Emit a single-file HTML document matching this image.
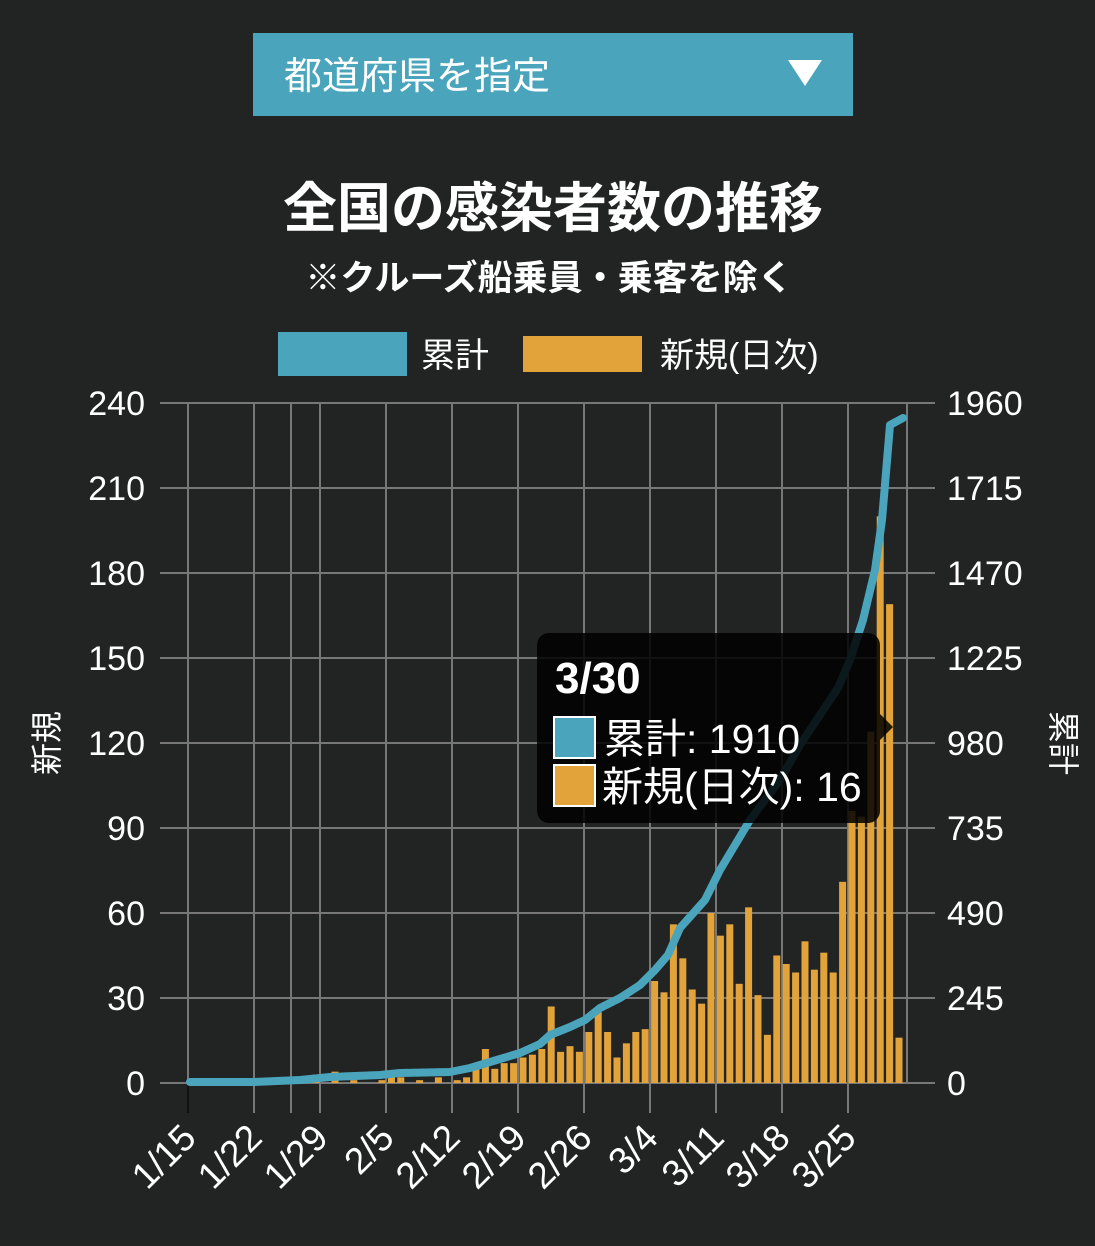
<!DOCTYPE html>
<html><head><meta charset="utf-8"><style>
html,body{margin:0;padding:0;background:#222424;}
svg{display:block;font-family:"Liberation Sans","Noto Sans CJK JP",sans-serif;}
</style></head><body>
<svg width="1095" height="1246" viewBox="0 0 1095 1246" xmlns="http://www.w3.org/2000/svg">
<rect width="1095" height="1246" fill="#222424"/>
<rect x="253" y="33" width="600" height="83" fill="#4aa5bc"/>
<text x="284" y="89" font-size="38" fill="#fff">都道府県を指定</text>
<polygon points="788,60 822,60 805,86" fill="#fff"/>
<text x="553" y="227" font-size="54" font-weight="bold" fill="#fff" text-anchor="middle">全国の感染者数の推移</text>
<text x="549" y="290" font-size="35" font-weight="bold" fill="#fff" text-anchor="middle">※クルーズ船乗員・乗客を除く</text>
<rect x="278" y="332" width="129" height="44" fill="#4aa5bc"/>
<text x="421" y="367" font-size="34" fill="#fff">累計</text>
<rect x="523" y="336" width="119" height="36" fill="#e3a33b"/>
<text x="660" y="367" font-size="34" fill="#fff">新規(日次)</text>
<g id="grid" stroke="#777" stroke-width="2"></g>
<g id="bars" fill="#e3a33b"></g>
<polyline id="line" fill="none" stroke="#4aa5bc" stroke-width="8" stroke-linejoin="round" stroke-linecap="round"/>
<g id="labels" font-size="34" fill="#fff"></g>
<g id="xlabels" font-size="37" fill="#fff"></g>
<text transform="translate(58,743) rotate(-90)" font-size="32" fill="#fff" text-anchor="middle">新規</text>
<text transform="translate(1052,743) rotate(90)" font-size="32" fill="#fff" text-anchor="middle">累計</text>
<rect x="537" y="633" width="343" height="190" rx="12" fill="#000" fill-opacity="0.85"/>
<polygon points="880,714 893,727 880,740" fill="#000" fill-opacity="0.85"/>
<text x="555" y="693" font-size="44" font-weight="bold" fill="#fff">3/30</text>
<rect x="554" y="717" width="41" height="41" fill="#4aa5bc" stroke="#fff" stroke-width="2"/>
<text x="604" y="753" font-size="41" fill="#fff">累計: 1910</text>
<rect x="554" y="765" width="41" height="41" fill="#e3a33b" stroke="#fff" stroke-width="2"/>
<text x="602" y="801" font-size="41" fill="#fff">新規(日次): 16</text>
<script>
var ns="http://www.w3.org/2000/svg";
function el(t,a,p,txt){var e=document.createElementNS(ns,t);for(var k in a)e.setAttribute(k,a[k]);if(txt)e.textContent=txt;document.getElementById(p).appendChild(e);return e;}
var y0=1083,s=680/240;
for(var i=0;i<=8;i++){var y=y0-i*85;el('line',{x1:160,x2:935,y1:y,y2:y},'grid');
el('text',{x:145,y:y+12,'text-anchor':'end'},'labels',String(i*30));
el('text',{x:947,y:y+12},'labels',String(i*245));}
var vx=[188,254,291,320,386,452,518,584,650,716,782,848,907];
vx.forEach(function(x){el('line',{x1:x,x2:x,y1:403,y2:(x==907)?1083:1113,stroke:(x==188?'#111':'#777')},'grid');});
el('line',{x1:188,x2:188,y1:403,y2:1083},'grid');
var xl=['1/15','1/22','1/29','2/5','2/12','2/19','2/26','3/4','3/11','3/18','3/25'];
var xp=[188,254,320,386,452,518,584,650,716,782,848];
xl.forEach(function(t,i){el('text',{transform:'translate('+(xp[i]+10)+',1140) rotate(-45)','text-anchor':'end'},'xlabels',t);});
var v={13:3,15:4,17:1,20:1,21:2,22:2,24:1,26:2,28:1,29:2,30:7,31:12,32:5,33:7,34:7,35:9,36:10,37:12,38:27,39:11,40:13,41:11,42:18,43:25,44:18,45:9,46:14,47:18,48:19};
var late=[36,32,56,44,33,28,60,52,56,35,62,31,17,45,42,39,50,40,46,39,71,96,94,124,200,169,16];
late.forEach(function(d,i){v[49+i]=d;});
for(var n in v){var x=194+n*9.4-3.5,h=v[n]*s;el('rect',{x:x,y:y0-h,width:7,height:h},'bars');}
document.getElementById('line').setAttribute('points',"190,1082 254,1082 300,1080 330,1077 355,1076 380,1075 400,1073 450,1072 470,1068 490,1062 520,1053 540,1044 550,1035 570,1027 585,1020 600,1008 620,998 640,985 655,970 668,955 680,928 705,900 720,870 735,845 750,820 765,800 780,780 800,745 820,715 838,688 850,660 863,620 875,570 882,520 890,425 903,418");
</script>
</svg>
</body></html>
